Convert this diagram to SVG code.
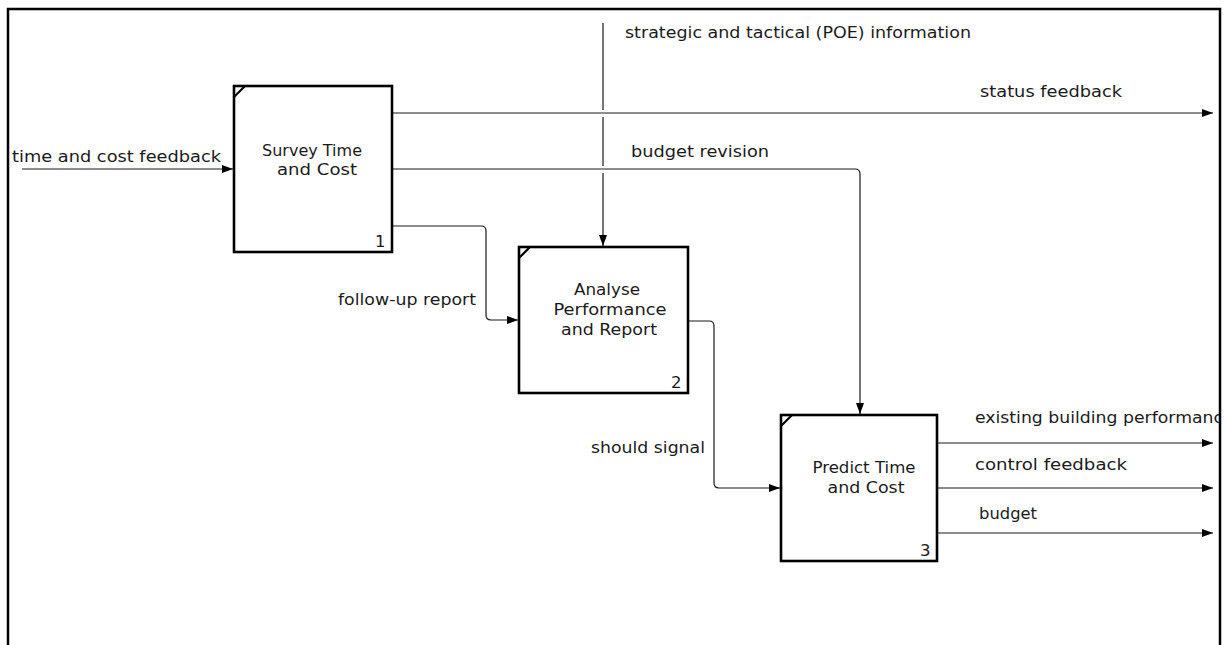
<svg xmlns="http://www.w3.org/2000/svg" width="1228" height="645" viewBox="0 0 1228 645">
  <style>
    .frame { fill: none; stroke: #000; stroke-width: 2.5; }
    .box { fill: #fff; stroke: #000; stroke-width: 2.6; }
    .tick { stroke: #000; stroke-width: 2.2; }
    .wire { fill: none; stroke: #1a1a1a; stroke-width: 1.2; }
    text { font-family: "DejaVu Sans", "Liberation Sans", sans-serif; font-size: 16.5px; fill: #1a1a1a; }
    .c { text-anchor: middle; }
  </style>
  <defs>
    <marker id="arrow" markerUnits="userSpaceOnUse" markerWidth="12" markerHeight="9" refX="11" refY="4" orient="auto">
      <path d="M0,0 L11,4 L0,8 Z" fill="#000"/>
    </marker>
    <clipPath id="inside">
      <rect x="9" y="10" width="1210" height="640"/>
    </clipPath>
  </defs>

  <rect width="1228" height="645" fill="#fff"/>

  <!-- outer diagram frame, open at the bottom -->
  <path class="frame" d="M8,645 V9 H1220 V645"/>

  <!-- connectors -->
  <g id="connectors">
    <!-- control: strategic and tactical information, broken where outputs cross -->
    <path class="wire" d="M603,23 V110"/>
    <path class="wire" d="M603,117 V166"/>
    <path class="wire" d="M603,173 V246" marker-end="url(#arrow)"/>
    <!-- input: time and cost feedback -->
    <path class="wire" d="M22,169 H233" marker-end="url(#arrow)"/>
    <!-- status feedback -->
    <path class="wire" d="M392,113 H1213" marker-end="url(#arrow)"/>
    <!-- budget revision -->
    <path class="wire" d="M392,169 H855 Q860,169 860,174 V414" marker-end="url(#arrow)"/>
    <!-- follow-up report -->
    <path class="wire" d="M392,226 H481 Q486,226 486,231 V315 Q486,320 491,320 H518" marker-end="url(#arrow)"/>
    <!-- should signal -->
    <path class="wire" d="M688,321 H709 Q714,321 714,326 V483 Q714,488 719,488 H780" marker-end="url(#arrow)"/>
    <!-- outputs of activity 3 -->
    <path class="wire" d="M937,443 H1213" marker-end="url(#arrow)"/>
    <path class="wire" d="M937,488 H1213" marker-end="url(#arrow)"/>
    <path class="wire" d="M937,533 H1213" marker-end="url(#arrow)"/>
  </g>

  <!-- arrow labels -->
  <g id="labels">
    <text x="625" y="38" textLength="346" lengthAdjust="spacingAndGlyphs">strategic and tactical (POE) information</text>
    <text x="980" y="97" textLength="142" lengthAdjust="spacingAndGlyphs">status feedback</text>
    <text x="12" y="162" textLength="209" lengthAdjust="spacingAndGlyphs">time and cost feedback</text>
    <text x="631" y="157" textLength="138" lengthAdjust="spacingAndGlyphs">budget revision</text>
    <text x="338" y="305" textLength="138" lengthAdjust="spacingAndGlyphs">follow-up report</text>
    <text x="591" y="453" textLength="114" lengthAdjust="spacingAndGlyphs">should signal</text>
    <g clip-path="url(#inside)">
      <text x="975" y="423" textLength="248" lengthAdjust="spacingAndGlyphs">existing building performanc</text>
    </g>
    <text x="975" y="470" textLength="152" lengthAdjust="spacingAndGlyphs">control feedback</text>
    <text x="979" y="519" textLength="58" lengthAdjust="spacingAndGlyphs">budget</text>
  </g>

  <!-- activity 1 -->
  <g id="node-survey">
    <rect class="box" x="234" y="86" width="158" height="166"/>
    <line class="tick" x1="234" y1="97" x2="245" y2="86"/>
    <text class="c" x="312" y="156" textLength="100" lengthAdjust="spacingAndGlyphs">Survey Time</text>
    <text class="c" x="317" y="175" textLength="80" lengthAdjust="spacingAndGlyphs">and Cost</text>
    <text x="375" y="247">1</text>
  </g>

  <!-- activity 2 -->
  <g id="node-analyse">
    <rect class="box" x="519" y="247" width="169" height="146"/>
    <line class="tick" x1="519" y1="258" x2="530" y2="247"/>
    <text class="c" x="607" y="295" textLength="66" lengthAdjust="spacingAndGlyphs">Analyse</text>
    <text class="c" x="610" y="315" textLength="113" lengthAdjust="spacingAndGlyphs">Performance</text>
    <text class="c" x="609" y="335" textLength="96" lengthAdjust="spacingAndGlyphs">and Report</text>
    <text x="671" y="388">2</text>
  </g>

  <!-- activity 3 -->
  <g id="node-predict">
    <rect class="box" x="781" y="415" width="156" height="146"/>
    <line class="tick" x1="781" y1="426" x2="792" y2="415"/>
    <text class="c" x="864" y="473" textLength="103" lengthAdjust="spacingAndGlyphs">Predict Time</text>
    <text class="c" x="866" y="493" textLength="77" lengthAdjust="spacingAndGlyphs">and Cost</text>
    <text x="920" y="556">3</text>
  </g>
</svg>
